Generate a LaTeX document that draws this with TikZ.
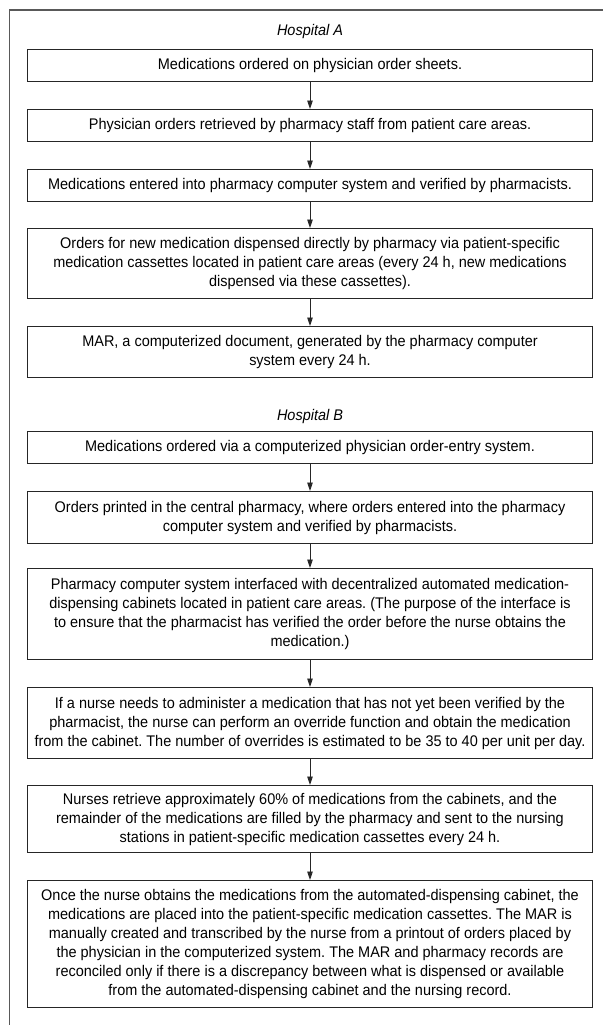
\documentclass[tikz,border=0pt]{standalone}
\usepackage{fontspec}
\setmainfont[FakeStretch=0.94]{Liberation Sans}
\usetikzlibrary{arrows.meta}
\frenchspacing
\begin{document}
\begin{tikzpicture}[x=1pt,y=-1pt,
   box/.style={draw=black!85,line width=1.2pt,anchor=north,minimum width=564.6pt,
     align=center,inner sep=0pt,font=\fontsize{15.4}{19}\selectfont},
   hosp/.style={font=\fontsize{15.4}{19}\selectfont\itshape},
   flow/.style={-{Triangle[length=8.5pt,width=5.5pt]},line width=0.9pt,black!85}]
   \useasboundingbox (0,0) rectangle (603,1025);
   \draw[line width=1.5pt,black!65] (9.5,1025) -- (9.5,10) -- (603,10);
   \begin{scope}
    \node[hosp] (hospA) at (310,32) {Hospital A};
    \node[box,minimum height=32pt] (a1) at (310,49) {Medications ordered on physician order sheets.};
    \node[box,minimum height=32pt] (a2) at (310,109) {Physician orders retrieved by pharmacy staff from patient care areas.};
    \node[box,minimum height=32pt] (a3) at (310,169) {Medications entered into pharmacy computer system and verified by pharmacists.};
    \node[box,minimum height=70pt] (a4) at (310,228) {Orders for new medication dispensed directly by pharmacy via patient-specific\\
     medication cassettes located in patient care areas (every 24 h, new medications\\
     dispensed via these cassettes).};
    \node[box,minimum height=51pt] (a5) at (310,326) {MAR, a computerized document, generated by the pharmacy computer\\
     system every 24 h.};
    \foreach \u/\v in {a1/a2,a2/a3,a3/a4,a4/a5}
     \draw[flow] (\u) -- (\v);
   \end{scope}
   \begin{scope}
    \node[hosp] (hospB) at (310,417) {Hospital B};
    \node[box,minimum height=32pt] (b1) at (310,431) {Medications ordered via a computerized physician order-entry system.};
    \node[box,minimum height=52pt] (b2) at (310,491) {Orders printed in the central pharmacy, where orders entered into the pharmacy\\
     computer system and verified by pharmacists.};
    \node[box,minimum height=91pt] (b3) at (310,568) {Pharmacy computer system interfaced with decentralized automated medication-\\
     dispensing cabinets located in patient care areas. (The purpose of the interface is\\
     to ensure that the pharmacist has verified the order before the nurse obtains the\\
     medication.)};
    \node[box,minimum height=71pt] (b4) at (310,687) {If a nurse needs to administer a medication that has not yet been verified by the\\
     pharmacist, the nurse can perform an override function and obtain the medication\\
     from the cabinet. The number of overrides is estimated to be 35 to 40 per unit per day.};
    \node[box,minimum height=67pt] (b5) at (310,785) {Nurses retrieve approximately 60\% of medications from the cabinets, and the\\
     remainder of the medications are filled by the pharmacy and sent to the nursing\\
     stations in patient-specific medication cassettes every 24 h.};
    \node[box,minimum height=127pt] (b6) at (310,880) {Once the nurse obtains the medications from the automated-dispensing cabinet, the\\
     medications are placed into the patient-specific medication cassettes. The MAR is\\
     manually created and transcribed by the nurse from a printout of orders placed by\\
     the physician in the computerized system. The MAR and pharmacy records are\\
     reconciled only if there is a discrepancy between what is dispensed or available\\
     from the automated-dispensing cabinet and the nursing record.};
    \foreach \u/\v in {b1/b2,b2/b3,b3/b4,b4/b5,b5/b6}
     \draw[flow] (\u) -- (\v);
   \end{scope}
\end{tikzpicture}
\end{document}
